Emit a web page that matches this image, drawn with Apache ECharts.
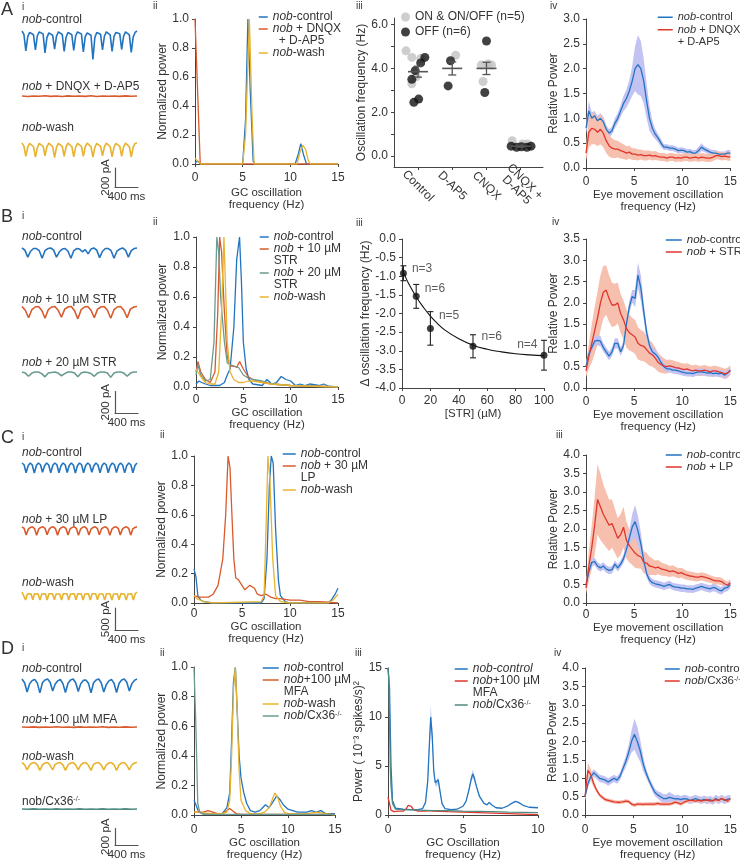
<!DOCTYPE html>
<html><head><meta charset="utf-8">
<script src="https://cdn.jsdelivr.net/npm/echarts@6/dist/echarts.min.js"></script>
<style>html,body{margin:0;padding:0;background:#fff}#c{width:740px;height:862px}</style>
</head><body><div id="c"></div>
<script>
// ================= DATA =================
// --- column i: current traces (pA), evenly sampled over 2000 ms ---
const traceA_control = [0,-35,-210,-60,-15, -5,-40,-200,-50,-10, 0,-30,-230,-70,-20, -5,-45,-190,-55,-10, 0,-35,-215,-65,-15, -5,-40,-205,-50,-10, 0,-30,-220,-60,-20, -5,-45,-300,-70,-15, 0,-35,-200,-55,-10, -5,-40,-215,-60,-15, 0,-30,-195,-55,-10, -5,-40,-225,-65,-15, 0];
const traceA_drug = [0,-5,0,-3,2,-4,0,-6,1,-3,0,-4,2,-5,0,-3,0,-4,1,-2,0];
const traceA_wash = [-10,-45,-150,-55,-15, -8,-50,-160,-60,-15, -10,-45,-145,-50,-12, -8,-50,-165,-55,-15, -10,-45,-150,-50,-12, -8,-50,-155,-55,-15, -10,-45,-150,-50,-12, -8,-50,-160,-60,-15, -10,-45,-145,-50,-12, -8,-50,-155,-55,-15, -10,-45,-150,-50,-12, -8,-50,-160,-55,-15, -10];
const traceB_control = [0,-20,-85,-30,-5, -5,-25,-95,-25,-5, 0,-20,-85,-35,-10, -5,-30,-95,-25,-5, -10,-35,-15,-55,-10, 0,-20,-90,-30,-5, -5,-25,-95,-30,-10, 0,-20,-85,-25,-5, 0];
const traceB_str10 = [5,-30,-100,-25,0, 5,-30,-105,-25,0, 5,-30,-95,-20,0, 5,-35,-110,-25,0, 5,-30,-100,-20,0, 5,-30,-105,-25,0, 5,-30,-100,-20,0, 5];
const traceB_str20 = [0,-10,-40,-10,0, 0,-15,-45,-10,-5, 0,-10,-35,-15,0, 0,-10,-45,-10,0, -5,-15,-40,-10,0, 0,-10,-50,-10,0, 0,-10,-40,-10,0, 0];
const traceC_control = [0,-40,-220,-60, 0,-45,-230,-55, 0,-40,-210,-60, 0,-45,-225,-50, 0,-40,-220,-60, 0,-40,-215,-55, 0,-45,-230,-60, 0,-40,-220,-55, 0,-40,-210,-60, 0,-45,-225,-55, 0,-40,-220,-60, 0,-40,-215,-55, 0,-45,-225,-60, 0,-40,-220,-55, 0];
const traceC_lp = [5,-30,-180,-50,-10, 5,-35,-190,-45,-10, 5,-30,-175,-50,-5, 5,-35,-185,-50,-10, 5,-30,-180,-45,-10, 5,-30,-190,-50,-5, 5,-35,-180,-50,-10, 5,-30,-175,-45,-10, 5,-35,-185,-50,-5, 5,-30,-180,-50,-10, 5,-30,-185,-45,-10, 5];
const traceC_wash = [0,-40,-180,-45, 0,-40,-175,-40, 0,-45,-185,-45, 0,-40,-180,-40, 0,-40,-175,-45, 0,-45,-185,-40, 0,-40,-180,-45, 0,-40,-175,-40, 0,-45,-185,-45, 0,-40,-180,-40, 0,-40,-175,-45, 0,-45,-185,-40, 0,-40,-180,-45, 0,-40,-175,-40, 0,-45,-185,-45, 0,-40,-180,-40, 0];
const traceD_control = [0,-40,-140,-50,-15, -5,-45,-150,-40,-10, 0,-35,-130,-55,-20, -5,-50,-145,-45,-10, 0,-40,-135,-50,-15, -10,-45,-150,-40,-10, 0,-40,-140,-60,-20, -5,-45,-145,-45,-10, 0,-35,-130,-50,-15, 0];
const traceD_mfa = [0,-3,1,-4,0,-2,2,-3,0,-4,1,-2,0,-3,2,-4,0,-2,1,-3,0];
const traceD_wash = [5,-20,-75,-20,0, 5,-20,-80,-20,0, 5,-25,-75,-15,0, 5,-20,-80,-20,0, 5,-20,-75,-20,0, 5,-25,-80,-15,0, 5,-20,-75,-20,0, 5,-20,-80,-20,0, 5,-25,-75,-20,0, 5];
const traceD_cx36 = [0,-2,1,-3,0,-2,1,-2,0,-3,1,-2,0,-2,1,-3,0,-2,1,-2,0];
const scaleBarMs = [400, 400, 400, 400];
const scaleBarPA = [200, 200, 500, 200];

// --- A ii: normalized power spectra [Hz, power] ---
const aiiControl = [[0,0.01],[0.3,0.02],[0.6,0],[5,0],[5.3,0.3],[5.55,1.0],[5.8,0.5],[6.1,0.02],[6.3,0],[10.5,0],[10.8,0.06],[11.1,0.14],[11.4,0.06],[11.7,0],[15,0]];
const aiiDnqx = [[0,1.0],[0.55,0],[15,0]];
const aiiWash = [[0,0.04],[0.3,0.02],[0.6,0],[5,0],[5.3,0.2],[5.7,1.0],[6.0,0.3],[6.2,0],[10.7,0],[11,0.08],[11.3,0.13],[11.6,0.1],[11.9,0.02],[12.1,0],[15,0]];
// --- A iii: oscillation frequency per condition ---
const aiiiCategories = ['Control','D-AP5','CNQX','CNQX +\nD-AP5'];
const aiiiOnX = [0.65,0.82,1.08,0.95,0.82, 2.1, 2.85,3.05,3.15,2.9, 3.75,4.05,4.2];
const aiiiOnY = [4.8,4.5,4.45,3.62,3.3, 4.6, 4.15,4.2,4.15,3.4, 0.7,0.55,0.55];
const aiiiOffX = [1.2,1.08,0.92,0.82,1.02,0.88, 1.95,1.88, 3.0,2.95, 3.72,3.88,4.02,4.18,4.3];
const aiiiOffY = [4.5,4.25,3.9,3.5,2.6,2.45, 4.35,3.2, 5.25,2.9, 0.45,0.4,0.42,0.4,0.45];
const aiiiMean = [3.85, 4.0, 4.0, 0.45];
const aiiiSem = [0.25, 0.3, 0.28, 0.05];
// --- eye movement relative power (shared frequency grid, Hz) ---
const eyeFreq = [0,0.3,0.6,0.9,1.2,1.5,1.8,2.1,2.4,2.7,3,3.3,3.6,3.9,4.2,4.5,4.8,5.1,5.4,5.7,6,6.3,6.6,6.9,7.2,7.5,7.8,8.1,8.4,8.7,9,9.3,9.6,9.9,10.2,10.5,10.8,11.1,11.4,11.7,12,12.3,12.6,12.9,13.2,13.5,13.8,14.1,14.4,14.7,15];
const aivCtrlMean = [0.8,1.15,1.0,1.05,0.95,1.0,0.93,0.78,0.7,0.75, 0.9,1.0,1.15,1.3,1.4,1.55,1.75,2.0,2.08,2.0, 1.75,1.35,1.0,0.8,0.68,0.6,0.5,0.42,0.42,0.4, 0.4,0.38,0.35,0.36,0.35,0.32,0.33,0.3,0.3,0.35, 0.42,0.38,0.35,0.32,0.3,0.3,0.28,0.28,0.28,0.3, 0.3];
const aivCtrlErr = [0.1,0.2,0.12,0.1,0.1,0.1,0.1,0.08,0.08,0.08, 0.1,0.1,0.12,0.15,0.18,0.22,0.3,0.45,0.6,0.55, 0.45,0.35,0.25,0.15,0.1,0.08,0.08,0.06,0.06,0.06, 0.06,0.06,0.06,0.06,0.06,0.06,0.06,0.06,0.06,0.08, 0.08,0.06,0.06,0.06,0.06,0.06,0.05,0.05,0.05,0.06, 0.06];
const aivDrugMean = [0.3,0.72,0.8,0.78,0.72,0.78,0.7,0.55,0.45,0.4, 0.38,0.38,0.35,0.33,0.3,0.32,0.28,0.28,0.26,0.27, 0.25,0.25,0.26,0.24,0.25,0.23,0.22,0.22,0.2,0.22, 0.22,0.2,0.21,0.2,0.22,0.22,0.2,0.21,0.22,0.2, 0.22,0.21,0.2,0.2,0.22,0.25,0.25,0.23,0.24,0.23, 0.22];
const aivDrugErr = [0.15,0.3,0.32,0.3,0.28,0.3,0.28,0.25,0.22,0.2, 0.18,0.17,0.16,0.15,0.14,0.13,0.12,0.12,0.11,0.1, 0.1,0.1,0.09,0.09,0.09,0.08,0.08,0.08,0.08,0.08, 0.08,0.08,0.08,0.08,0.08,0.08,0.08,0.08,0.08,0.08, 0.08,0.08,0.08,0.08,0.08,0.08,0.08,0.08,0.08,0.08, 0.08];
// --- B ii ---
const biiControl = [[0,0.02],[0.3,0.04],[0.6,0.03],[1,0.02],[1.5,0.01],[2,0.01],[2.5,0.01],[3,0.03],[3.3,0.08],[3.6,0.12],[4,0.4],[4.3,0.85],[4.6,1.0],[4.8,0.7],[5.0,0.3],[5.3,0.12],[5.6,0.05],[6,0.02],[7,0.01],[7.5,0.05],[8,0.02],[8.5,0.03],[9,0.07],[9.5,0.05],[10,0.04],[10.5,0.01],[11,0.02],[11.5,0.01],[12,0.02],[13,0.01],[13.5,0.02],[14,0.005],[15,0]];
const biiStr10 = [[0,0.1],[0.2,0.17],[0.5,0.1],[1,0.05],[1.5,0.03],[2,0.1],[2.3,0.5],[2.5,1.0],[2.7,0.9],[3,0.5],[3.3,0.2],[3.6,0.14],[4,0.14],[4.3,0.13],[4.6,0.17],[5,0.12],[5.5,0.07],[6,0.05],[7,0.03],[8,0.02],[10,0.01],[15,0]];
const biiStr20 = [[0,0.08],[0.2,0.15],[0.5,0.08],[1,0.04],[1.5,0.05],[1.9,0.3],[2.2,1.0],[2.4,0.9],[2.6,0.6],[3,0.3],[3.3,0.16],[3.6,0.15],[4,0.14],[4.5,0.13],[5,0.08],[5.5,0.06],[6,0.05],[7,0.04],[8,0.02],[10,0.01],[15,0]];
const biiWash = [[0,0.12],[0.2,0.13],[0.5,0.07],[1,0.03],[1.5,0.02],[2,0.02],[2.4,0.1],[2.7,0.5],[2.95,1.0],[3.1,0.7],[3.3,0.3],[3.6,0.1],[4,0.05],[4.5,0.03],[5,0.03],[5.5,0.04],[6,0.04],[7,0.03],[8,0.02],[10,0.01],[15,0]];
// --- B iii: strychnine dose response ---
const biiiConc = [1, 10, 20, 50, 100];
const biiiDelta = [-0.92, -1.54, -2.4, -2.88, -3.12];
const biiiErr = [0.2, 0.32, 0.45, 0.31, 0.4];
const biiiN = ['n=3','n=6','n=5','n=6','n=4'];
const biiiFitX = [0,2,5,10,15,20,25,30,40,50,60,70,80,90,100];
const biiiFitY = [-0.78,-0.98,-1.22,-1.55,-1.83,-2.07,-2.27,-2.44,-2.68,-2.85,-2.96,-3.03,-3.08,-3.11,-3.13];
// --- B iv ---
const bivCtrlMean = [0.5,0.8,0.95,1.1,1.12,1.1,0.95,0.85,0.75,0.85, 1.05,1.05,0.85,1.0,1.5,1.9,2.15,2.1,2.65,2.35, 1.8,1.3,1.0,0.85,0.8,0.72,0.6,0.5,0.45,0.45, 0.42,0.42,0.4,0.38,0.36,0.35,0.35,0.34,0.36,0.38, 0.38,0.37,0.35,0.36,0.34,0.35,0.33,0.35,0.3,0.35, 0.4];
const bivCtrlErr = [0.1,0.1,0.1,0.1,0.12,0.12,0.1,0.1,0.1,0.1, 0.12,0.12,0.1,0.1,0.12,0.15,0.15,0.2,0.3,0.3, 0.2,0.15,0.12,0.1,0.1,0.08,0.08,0.08,0.08,0.08, 0.08,0.08,0.08,0.08,0.08,0.08,0.08,0.08,0.08,0.08, 0.08,0.08,0.08,0.08,0.08,0.08,0.08,0.08,0.08,0.08, 0.08];
const bivStrMean = [0.4,0.75,1.05,1.35,1.65,2.0,2.25,2.3,2.1,1.95, 1.95,2.0,1.75,1.6,1.4,1.3,1.25,1.2,1.05,1.0, 0.98,0.9,0.82,0.78,0.7,0.6,0.55,0.52,0.5,0.52, 0.5,0.48,0.47,0.45,0.43,0.45,0.42,0.4,0.42,0.4, 0.4,0.42,0.4,0.38,0.4,0.4,0.38,0.36,0.33,0.35, 0.42];
const bivStrErr = [0.15,0.3,0.45,0.55,0.62,0.65,0.62,0.58,0.55,0.52, 0.5,0.48,0.46,0.45,0.45,0.42,0.4,0.4,0.38,0.36, 0.35,0.32,0.3,0.28,0.25,0.22,0.2,0.18,0.16,0.15, 0.15,0.15,0.14,0.14,0.14,0.13,0.13,0.13,0.13,0.12, 0.12,0.12,0.12,0.12,0.12,0.12,0.12,0.12,0.12,0.12, 0.12];
// --- C ii ---
const ciiControl = [[0,0.23],[0.2,0.18],[0.4,0.05],[0.7,0.02],[1,0.01],[2,0],[7,0],[7.3,0.03],[7.6,0.3],[7.85,0.8],[8.05,1.0],[8.25,0.95],[8.5,0.5],[8.8,0.15],[9.0,0.05],[9.5,0.01],[10,0],[14,0],[14.3,0.02],[14.7,0.06],[15,0.1]];
const ciiLp = [[0,0.05],[0.5,0.04],[1,0.04],[1.5,0.04],[2,0.06],[2.5,0.12],[3,0.3],[3.3,0.6],[3.55,1.0],[3.75,0.92],[3.95,0.6],[4.15,0.3],[4.35,0.17],[4.6,0.16],[5,0.12],[5.3,0.09],[5.5,0.08],[5.8,0.12],[6,0.13],[6.3,0.1],[6.6,0.06],[7,0.05],[7.5,0.06],[8,0.04],[8.5,0.03],[9,0.03],[10,0.02],[11,0.02],[12,0.01],[13,0.01],[14,0.005],[15,0]];
const ciiWash = [[0,0.05],[0.3,0.03],[1,0.01],[2,0],[7,0.01],[7.3,0.05],[7.5,0.5],[7.7,1.0],[7.9,0.85],[8.2,0.3],[8.5,0.05],[9,0.01],[10,0],[14,0],[14.5,0.02],[15,0.06]];
// --- C iii ---
const ciiiCtrlMean = [0.5,0.85,1.1,1.12,1.0,0.95,1.0,0.92,0.88,0.9, 1.05,0.95,1.05,1.2,1.45,1.75,2.05,2.2,1.95,1.6, 1.15,0.8,0.62,0.55,0.52,0.5,0.48,0.45,0.48,0.5, 0.45,0.43,0.42,0.4,0.4,0.38,0.38,0.37,0.4,0.42, 0.45,0.42,0.4,0.38,0.42,0.4,0.35,0.33,0.4,0.42, 0.5];
const ciiiCtrlErr = [0.1,0.1,0.1,0.1,0.1,0.1,0.1,0.1,0.1,0.1, 0.1,0.1,0.1,0.12,0.15,0.2,0.35,0.45,0.4,0.3, 0.2,0.12,0.1,0.1,0.1,0.1,0.1,0.1,0.1,0.1, 0.1,0.1,0.1,0.1,0.1,0.1,0.1,0.1,0.1,0.1, 0.1,0.1,0.1,0.1,0.1,0.1,0.1,0.1,0.1,0.1, 0.1];
const ciiiLpMean = [0.4,1.0,1.5,2.1,2.8,2.6,2.4,2.25,2.1,2.15, 1.95,1.75,1.85,2.05,1.7,1.55,1.45,1.35,1.28,1.25, 1.1,1.08,1.0,0.98,0.95,0.97,0.92,0.9,0.88,0.85, 0.87,0.84,0.8,0.82,0.78,0.75,0.73,0.72,0.7,0.7, 0.72,0.7,0.68,0.65,0.62,0.6,0.6,0.58,0.52,0.48, 0.55];
const ciiiLpErr = [0.15,0.4,0.6,0.8,0.95,0.9,0.8,0.75,0.7,0.65, 0.6,0.55,0.55,0.55,0.5,0.45,0.42,0.4,0.35,0.32, 0.3,0.28,0.25,0.22,0.2,0.19,0.18,0.17,0.16,0.15, 0.15,0.14,0.14,0.13,0.13,0.12,0.12,0.12,0.12,0.11, 0.11,0.11,0.11,0.1,0.1,0.1,0.1,0.1,0.1,0.1, 0.1];
// --- D ii ---
const diiControl = [[0,0.1],[0.2,0.07],[0.5,0.02],[1,0.01],[2,0.005],[3,0.01],[3.5,0.05],[3.8,0.15],[4.0,0.5],[4.2,0.9],[4.4,1.0],[4.6,0.7],[4.8,0.4],[5.0,0.25],[5.3,0.15],[5.6,0.08],[6,0.03],[6.5,0.02],[7,0.03],[7.3,0.05],[7.6,0.07],[8,0.05],[8.5,0.1],[8.8,0.13],[9.2,0.1],[9.5,0.07],[10,0.04],[11,0.02],[12,0.02],[12.5,0.03],[13,0.02],[13.5,0.03],[14,0.01],[15,0.01]];
const diiMfa = [[0,0.02],[1,0.02],[1.5,0.03],[2,0.02],[2.5,0.01],[3,0.01],[3.5,0.03],[3.8,0.045],[4.1,0.03],[4.5,0.01],[5,0.005],[15,0.005]];
const diiWash = [[0,0.02],[0.5,0.02],[1,0.015],[2,0.01],[3,0.01],[3.5,0.02],[3.8,0.1],[4.0,0.4],[4.2,0.85],[4.4,1.0],[4.6,0.7],[4.8,0.3],[5.0,0.1],[5.5,0.03],[6,0.01],[7,0.01],[7.5,0.02],[8,0.05],[8.3,0.1],[8.6,0.15],[8.9,0.12],[9.2,0.06],[9.6,0.02],[10,0.01],[12,0.01],[13,0.02],[14,0.01],[15,0]];
const diiCx36 = [[0,1.0],[0.2,0.6],[0.4,0.08],[0.6,0.02],[1,0.005],[15,0.005]];
// --- D iii: spike power spectra ---
const diiiCtrlX = [0,0.1,0.2,0.3,0.5,1,1.5,2,2.3,2.5,2.65,2.75,2.85,2.95,3.05,3.15,3.25,3.35,3.45,3.6,3.8,4.2,4.6,5,5.2,5.4,5.55,5.65,5.75,5.9,6.1,6.4,6.6,6.75,6.9,7.2,7.6,8,8.3,8.5,8.7,9,9.4,10];
const diiiCtrlY = [15,13,5,1.5,0.7,0.6,0.55,0.55,0.65,1.3,3.5,7,10,8,4.5,3.3,3.2,3.6,2.6,1.2,0.65,0.55,0.6,0.9,1.4,2.6,3.7,4.2,3.8,2.9,1.9,1.2,1.05,1.3,1.05,0.75,0.7,0.95,1.25,1.4,1.3,1.0,0.8,0.75];
const diiiCtrlErr = [0,0,0,0,0,0,0,0,0,0.1,0.3,0.6,1.2,0.8,0.4,0.3,0.3,0.3,0.2,0.1,0,0,0,0.05,0.1,0.2,0.3,0.45,0.3,0.2,0.1,0.05,0,0.05,0,0,0,0,0,0.05,0.05,0,0,0];
const diiiMfa = [[0,1.8],[0.1,1.2],[0.2,0.5],[0.4,0.35],[0.7,0.4],[1.0,0.4],[1.2,0.6],[1.35,1.0],[1.45,1.2],[1.55,0.9],[1.7,0.55],[2.0,0.4],[2.5,0.4],[2.8,0.45],[3.0,0.4],[3.5,0.38],[4,0.35],[5,0.3],[6,0.25],[7,0.2],[8,0.15],[9,0.1],[10,0.05]];
const diiiCx36 = [[0,15],[0.05,14],[0.1,10],[0.15,5],[0.2,3],[0.3,1.2],[0.5,0.6],[1,0.55],[2,0.5],[3,0.45],[4,0.45],[5,0.4],[6,0.38],[7,0.35],[8,0.3],[9,0.28],[10,0.25]];
// --- D iv ---
const divCtrlMean = [0.5,0.85,1.05,1.15,1.08,1.0,0.98,0.95,0.9,0.95, 1.0,0.95,1.05,1.25,1.45,1.7,2.0,2.2,2.0,1.75, 1.4,1.15,0.95,0.78,0.62,0.55,0.5,0.45,0.45,0.48, 0.46,0.44,0.45,0.42,0.45,0.44,0.4,0.42,0.45,0.42, 0.4,0.43,0.4,0.42,0.38,0.45,0.4,0.45,0.4,0.43, 0.45];
const divCtrlErr = [0.1,0.1,0.1,0.1,0.1,0.1,0.1,0.1,0.1,0.1, 0.1,0.1,0.1,0.12,0.15,0.2,0.3,0.42,0.4,0.3, 0.2,0.12,0.1,0.1,0.1,0.1,0.12,0.12,0.12,0.15, 0.12,0.1,0.1,0.1,0.1,0.1,0.1,0.1,0.1,0.1, 0.1,0.1,0.1,0.1,0.1,0.1,0.1,0.1,0.1,0.1, 0.1];
const divCx36Mean = [0.5,1.22,1.1,0.85,0.68,0.55,0.48,0.42,0.4,0.38, 0.36,0.35,0.35,0.36,0.38,0.37,0.3,0.27,0.3,0.3, 0.29,0.3,0.3,0.3,0.3,0.32,0.3,0.3,0.3,0.3, 0.32,0.35,0.33,0.3,0.35,0.38,0.4,0.4,0.38,0.4, 0.38,0.4,0.42,0.38,0.4,0.42,0.4,0.45,0.42,0.38, 0.45];
const divCx36Err = [0.1,0.2,0.15,0.1,0.06,0.05,0.05,0.05,0.05,0.05, 0.05,0.05,0.05,0.05,0.05,0.05,0.05,0.05,0.05,0.05, 0.05,0.05,0.05,0.05,0.05,0.05,0.05,0.05,0.05,0.05, 0.05,0.05,0.05,0.05,0.05,0.05,0.05,0.05,0.05,0.05, 0.05,0.05,0.05,0.05,0.05,0.05,0.05,0.05,0.05,0.05, 0.05];

// ================= STYLE / LAYOUT =================
const FONT = "'Liberation Sans', Arial, Helvetica, sans-serif";
const TXT = '#333', AX = '#444';
const BLUE='#2274c0', ORANGE='#d95a2c', YELLOW='#e8b32e', TEAL='#6b9a91', RED='#e0362c', DTEAL='#4f8a80';
const BAND_B='#c2c2f3', BAND_R='#f7bfae', BAND_LB='#b9cff0';
const RICH = {
  i:{fontStyle:'italic', fontFamily:FONT},
  sup:{fontSize:7, verticalAlign:'top', fontFamily:FONT}
};
const LBL = {
  aii_c:'{i|nob}-control', aii_d:'{i|nob} + DNQX', aii_d2:'\u2002+ D-AP5', aii_w:'{i|nob}-wash',
  aiii_on:'ON & ON/OFF (n=5)', aiii_off:'OFF (n=6)',
  aiv_c:'{i|nob}-control', aiv_d:'{i|nob} + DNQX', aiv_d2:'+ D-AP5',
  bii_c:'{i|nob}-control', bii_10:'{i|nob} + 10 µM', bii_10b:'STR', bii_20:'{i|nob} + 20 µM', bii_20b:'STR', bii_w:'{i|nob}-wash',
  biv_c:'{i|nob}-control', biv_s:'{i|nob} + STR',
  cii_c:'{i|nob}-control', cii_l:'{i|nob} + 30 µM', cii_l2:'LP', cii_w:'{i|nob}-wash',
  ciii_c:'{i|nob}-control', ciii_l:'{i|nob} + LP',
  dii_c:'{i|nob}-control', dii_m:'{i|nob}+100 µM', dii_m2:'MFA', dii_w:'{i|nob}-wash', dii_k:'{i|nob}/Cx36{sup|-/-}',
  diii_c:'{i|nob-control}', diii_m:'{i|nob}+100 µM', diii_m2:'MFA', diii_k:'{i|nob}/Cx36{sup|-/-}',
  div_c:'{i|nob}-control', div_k:'{i|nob}/Cx36{sup|-/-}'
};

const grids=[], xAxes=[], yAxes=[], series=[], legends=[], graphics=[];
function merge(t, s){ for (const k in s){ const v=s[k]; if (v && typeof v==='object' && !Array.isArray(v) && t[k] && typeof t[k]==='object' && !Array.isArray(t[k])) merge(t[k], v); else t[k]=v; } return t; }
function baseAxis(){ return {type:'value', axisLine:{show:true,onZero:false,lineStyle:{color:AX,width:1}}, axisTick:{show:true,length:3,lineStyle:{color:AX}}, splitLine:{show:false}, axisLabel:{color:TXT,fontSize:12,fontFamily:FONT,margin:6}, nameTextStyle:{color:TXT,fontFamily:FONT,fontSize:12,lineHeight:12}}; }
function addPanel(rect, xo, yo){
  const gi = grids.length;
  grids.push(rect);
  xAxes.push(merge(merge(baseAxis(), {gridIndex:gi, position:'bottom', nameLocation:'middle'}), xo));
  yAxes.push(merge(merge(baseAxis(), {gridIndex:gi, position:'left', nameLocation:'middle'}), yo));
  return gi;
}
function line(gi, name, data, color, w, extra){ series.push(merge({type:'line', name, xAxisIndex:gi, yAxisIndex:gi, data, symbol:'none', smooth:false, lineStyle:{color, width:w||1.3}, itemStyle:{color}, z:3}, extra||{})); }
function dummy(gi, name){ series.push({type:'line', name, xAxisIndex:gi, yAxisIndex:gi, data:[], symbol:'none'}); }
function band(gi, x, mean, err, color){
  series.push({type:'custom', xAxisIndex:gi, yAxisIndex:gi, data:[[x[0], mean[0]]], silent:true, z:1, clip:true,
    renderItem:(p, api)=>{
      const up=[], lo=[];
      for (let i=0;i<x.length;i++){ up.push(api.coord([x[i], mean[i]+err[i]])); lo.push(api.coord([x[i], mean[i]-err[i]])); }
      return {type:'polygon', shape:{points: up.concat(lo.reverse())}, style:{fill:color}};
    }});
}
function legend(names, left, top, itemWidth, rowH, contNames, fs){
  fs = fs || 12;
  legends.push({show:true, orient:'vertical', left, top, padding:0, itemGap:0, itemWidth, itemHeight:rowH, selectedMode:false,
    data: names.map(n => (contNames||[]).indexOf(n)>=0 ? {name:n, icon:'none'} : {name:n}),
    formatter: n => LBL[n],
    itemStyle:{opacity:0, borderWidth:0}, lineStyle:{width:1.5},
    textStyle:{color:TXT, fontFamily:FONT, fontSize:fs, lineHeight:rowH, rich:{i:{fontStyle:'italic',fontFamily:FONT,fontSize:fs,lineHeight:rowH}, sup:{fontSize:7,verticalAlign:'top',fontFamily:FONT,lineHeight:rowH}}}});
}
function gtext(x, y, text, size, extra){ graphics.push(merge({type:'text', x, y, silent:true, style:{text, fontFamily:FONT, fontSize:size, fill:TXT, verticalAlign:'middle', align:'left', rich:RICH}}, extra||{})); }
const f1 = v => v.toFixed(1);

// ---------- column i traces ----------
const TRACE_MS = 2000, MS_PER_PX = 400/23, TRACE_LEFT = 22;
function trace(arr, baseY, pAperPx, color){
  const yMax = 40, yMin = -360;
  const gi = grids.length;
  grids.push({left:TRACE_LEFT, top: baseY - yMax/pAperPx, width: TRACE_MS/MS_PER_PX, height:(yMax-yMin)/pAperPx});
  xAxes.push({type:'value', gridIndex:gi, min:0, max:TRACE_MS, show:false});
  yAxes.push({type:'value', gridIndex:gi, min:yMin, max:yMax, show:false});
  line(gi, undefined, arr.map((v,i)=>[i*TRACE_MS/(arr.length-1), v]), color, 1.6);
}
function scaleBar(k, bottomY, pAperPx){
  const gi = grids.length;
  const w = scaleBarMs[k]/MS_PER_PX, h = scaleBarPA[k]/pAperPx;
  grids.push({left:115, top:bottomY-h, width:w, height:h});
  const ax = {axisLine:{show:true,lineStyle:{color:'#555',width:1.2}}, axisTick:{show:false}, axisLabel:{show:false}, splitLine:{show:false}, nameLocation:'middle', nameTextStyle:{color:TXT,fontFamily:FONT,fontSize:11.5}};
  xAxes.push(merge({type:'value', gridIndex:gi, min:0, max:scaleBarMs[k], name:scaleBarMs[k]+' ms', nameGap:4}, JSON.parse(JSON.stringify(ax))));
  yAxes.push(merge({type:'value', gridIndex:gi, min:0, max:scaleBarPA[k], name:scaleBarPA[k]+' pA', nameGap:3}, JSON.parse(JSON.stringify(ax))));
}
const pxA = 200/19, pxB = 200/21.5, pxC = 500/22, pxD = 200/18.5;
trace(traceA_control, 31, pxA, BLUE); trace(traceA_drug, 96, pxA, ORANGE); trace(traceA_wash, 142, pxA, YELLOW); scaleBar(0, 187, pxA);
trace(traceB_control, 248, pxB, BLUE); trace(traceB_str10, 307, pxB, ORANGE); trace(traceB_str20, 372, pxB, TEAL); scaleBar(1, 413, pxB);
trace(traceC_control, 463, pxC, BLUE); trace(traceC_lp, 527, pxC, ORANGE); trace(traceC_wash, 592, pxC, YELLOW); scaleBar(2, 630, pxC);
trace(traceD_control, 679, pxD, BLUE); trace(traceD_mfa, 727, pxD, ORANGE); trace(traceD_wash, 763, pxD, YELLOW); trace(traceD_cx36, 809, pxD, DTEAL); scaleBar(3, 847, pxD);

gtext(22,20,'{i|nob}-control',12); gtext(22,87,'{i|nob} + DNQX + D-AP5',12); gtext(22,128,'{i|nob}-wash',12);
gtext(22,237,'{i|nob}-control',12); gtext(22,300,'{i|nob} + 10 µM STR',12); gtext(22,363,'{i|nob} + 20 µM STR',12);
gtext(22,453,'{i|nob}-control',12); gtext(22,520,'{i|nob} + 30 µM LP',12); gtext(22,583,'{i|nob}-wash',12);
gtext(22,669,'{i|nob}-control',12); gtext(22,720,'{i|nob}+100 µM MFA',12); gtext(22,757,'{i|nob}-wash',12); gtext(22,802,'nob/Cx36{sup|-/-}',12);

// panel letters and roman numerals
gtext(1,10,'A',18); gtext(1,217,'B',18); gtext(1,438,'C',18); gtext(1,649,'D',18);
[[22,7,'i'],[153,6,'ii'],[356,6,'iii'],[550,6,'iv'],
 [22,216,'i'],[153,222,'ii'],[356,223,'iii'],[552,222,'iv'],
 [22,437,'i'],[160,435,'ii'],[556,435,'iii'],
 [22,648,'i'],[160,653,'ii'],[355,653,'iii'],[554,653,'iv']].forEach(r=>gtext(r[0],r[1],r[2],10));

// ---------- spectra panels ----------
function spectrum(rect, nameGapX, marginX, nameGapY){
  return addPanel(rect,
    {min:0,max:15,interval:5,name:'GC oscillation\nfrequency (Hz)',nameGap:nameGapX,axisLabel:{margin:marginX},nameTextStyle:{fontSize:11.5}},
    {min:0,max:1,interval:0.2,name:'Normalized power',nameGap:nameGapY,axisLabel:{formatter:f1}});
}
function eyePanel(rect, ymax, nameGapX, marginX, nameGapY){
  return addPanel(rect,
    {min:0,max:15,interval:5,name:'Eye movement oscillation\nfrequency (Hz)',nameGap:nameGapX,axisLabel:{margin:marginX},nameTextStyle:{fontSize:11.5}},
    {min:0,max:ymax,interval:0.5,name:'Relative Power',nameGap:nameGapY,axisLabel:{formatter:f1}});
}

// A ii
let g = spectrum({left:195, top:19, width:143, height:145}, 23, 8, 24);
line(g,'aii_c',aiiControl,BLUE); line(g,'aii_d',aiiDnqx,ORANGE); dummy(g,'aii_d2'); line(g,'aii_w',aiiWash,YELLOW);
legend(['aii_c','aii_d','aii_d2','aii_w'], 258, 11, 9, 11.7, ['aii_d2']);

// A iii
g = addPanel({left:394, top:18, width:149, height:149},
  {min:0.3,max:4.65,axisLabel:{customValues:[1,2,3,4],formatter:v=>aiiiCategories[Math.round(v)-1],rotate:-45,align:'center',verticalAlign:'middle',margin:19,lineHeight:12},axisTick:{customValues:[1,2,3,4]}},
  {min:-0.5,max:6.3,axisLabel:{customValues:[0,2,4,6],formatter:f1},axisTick:{customValues:[0,1,2,3,4,5,6]},name:'Oscillation frequency (Hz)',nameGap:21});
series.push({type:'scatter', name:'aiii_on', xAxisIndex:g, yAxisIndex:g, data:aiiiOnX.map((x,i)=>[x,aiiiOnY[i]]), symbolSize:9, itemStyle:{color:'#c2c2c2'}, z:3});
series.push({type:'scatter', name:'aiii_off', xAxisIndex:g, yAxisIndex:g, data:aiiiOffX.map((x,i)=>[x,aiiiOffY[i]]), symbolSize:9, itemStyle:{color:'#111'}, z:4});
series.push({type:'custom', xAxisIndex:g, yAxisIndex:g, z:5, silent:true, data:aiiiMean.map((m,i)=>[i+1,m,aiiiSem[i]]),
  renderItem:(p, api)=>{
    const x=api.value(0), m=api.value(1), s=api.value(2);
    const c=api.coord([x,m]), hi=api.coord([x,m+s]), lo=api.coord([x,m-s]);
    const st={stroke:'#555', lineWidth:1.3};
    return {type:'group', children:[
      {type:'line', shape:{x1:c[0]-10,y1:c[1],x2:c[0]+10,y2:c[1]}, style:{stroke:'#555',lineWidth:1.6}},
      {type:'line', shape:{x1:c[0],y1:hi[1],x2:c[0],y2:lo[1]}, style:st},
      {type:'line', shape:{x1:c[0]-4,y1:hi[1],x2:c[0]+4,y2:hi[1]}, style:st},
      {type:'line', shape:{x1:c[0]-4,y1:lo[1],x2:c[0]+4,y2:lo[1]}, style:st}]};
  }});
legends.push({show:true, orient:'vertical', left:401, top:11, padding:0, itemGap:3, itemWidth:9, itemHeight:10, selectedMode:false,
  data:[{name:'aiii_on',icon:'circle'},{name:'aiii_off',icon:'circle'}], formatter:n=>LBL[n],
  textStyle:{color:TXT,fontFamily:FONT,fontSize:12}});

// A iv
g = eyePanel({left:586, top:19, width:147, height:149}, 3.0, 18, 8, 20);
band(g, eyeFreq, aivCtrlMean, aivCtrlErr, BAND_B); band(g, eyeFreq, aivDrugMean, aivDrugErr, BAND_R);
line(g,'aiv_c',eyeFreq.map((x,i)=>[x,aivCtrlMean[i]]),BLUE); line(g,'aiv_d',eyeFreq.map((x,i)=>[x,aivDrugMean[i]]),RED); dummy(g,'aiv_d2');
legend(['aiv_c','aiv_d','aiv_d2'], 657, 11, 15, 12.5, ['aiv_d2'], 11);

// B ii
g = spectrum({left:196, top:237, width:142, height:150}, 18, 7, 27);
line(g,'bii_c',biiControl,BLUE); line(g,'bii_10',biiStr10,ORANGE); dummy(g,'bii_10b'); line(g,'bii_20',biiStr20,TEAL); dummy(g,'bii_20b'); line(g,'bii_w',biiWash,YELLOW);
legend(['bii_c','bii_10','bii_10b','bii_20','bii_20b','bii_w'], 259, 231, 9, 10.7, ['bii_10b','bii_20b']);

// B iii
g = addPanel({left:402, top:239, width:142, height:149},
  {min:0,max:100,interval:20,name:'[STR] (µM)',nameGap:19,axisLabel:{margin:7},nameTextStyle:{fontSize:11.5}},
  {min:-4,max:0,interval:0.5,axisLabel:{formatter:f1},name:'Δ oscillation frequency (Hz)',nameGap:29});
line(g,undefined,biiiFitX.map((x,i)=>[x,biiiFitY[i]]),'#111',1.1,{smooth:true,z:2});
series.push({type:'custom', xAxisIndex:g, yAxisIndex:g, z:4, silent:true, data:biiiConc.map((c,i)=>[c,biiiDelta[i],biiiErr[i]]),
  renderItem:(p, api)=>{
    const x=api.value(0), m=api.value(1), s=api.value(2);
    const hi=api.coord([x,m+s]), lo=api.coord([x,m-s]);
    const st={stroke:'#222', lineWidth:1.1};
    return {type:'group', children:[
      {type:'line', shape:{x1:hi[0],y1:hi[1],x2:lo[0],y2:lo[1]}, style:st},
      {type:'line', shape:{x1:hi[0]-3,y1:hi[1],x2:hi[0]+3,y2:hi[1]}, style:st},
      {type:'line', shape:{x1:lo[0]-3,y1:lo[1],x2:lo[0]+3,y2:lo[1]}, style:st}]};
  }});
const nLabelPos = [['right',[0,-5]],['right',[0,-8]],['right',[0,-13]],['right',[0,-10]],['left',[2,-11]]];
series.push({type:'scatter', xAxisIndex:g, yAxisIndex:g, z:5, symbolSize:7, itemStyle:{color:'#111'},
  data:biiiConc.map((c,i)=>({value:[c,biiiDelta[i]], label:{show:true, position:nLabelPos[i][0], offset:nLabelPos[i][1], formatter:biiiN[i], color:TXT, fontFamily:FONT, fontSize:12}}))});

// B iv
g = eyePanel({left:586, top:239, width:148, height:149}, 3.5, 17, 8, 22);
band(g, eyeFreq, bivStrMean, bivStrErr, BAND_R); band(g, eyeFreq, bivCtrlMean, bivCtrlErr, BAND_B);
line(g,'biv_c',eyeFreq.map((x,i)=>[x,bivCtrlMean[i]]),BLUE); line(g,'biv_s',eyeFreq.map((x,i)=>[x,bivStrMean[i]]),RED);
legend(['biv_c','biv_s'], 665, 234, 16, 10.5, null, 11.5);

// C ii
g = spectrum({left:194, top:456, width:144, height:147}, 14, 5, 21);
line(g,'cii_c',ciiControl,BLUE); line(g,'cii_l',ciiLp,ORANGE); dummy(g,'cii_l2'); line(g,'cii_w',ciiWash,YELLOW);
legend(['cii_c','cii_l','cii_l2','cii_w'], 282, 448, 13, 10.9, ['cii_l2']);

// C iii
g = eyePanel({left:586, top:455, width:147, height:148}, 4.0, 15, 6, 20);
band(g, eyeFreq, ciiiLpMean, ciiiLpErr, BAND_R); band(g, eyeFreq, ciiiCtrlMean, ciiiCtrlErr, BAND_B);
line(g,'ciii_c',eyeFreq.map((x,i)=>[x,ciiiCtrlMean[i]]),BLUE); line(g,'ciii_l',eyeFreq.map((x,i)=>[x,ciiiLpMean[i]]),RED);
legend(['ciii_c','ciii_l'], 665, 449, 16, 10.7, null, 11.5);

// D ii
g = spectrum({left:194, top:667, width:141, height:150}, 20, 9, 25);
line(g,'dii_c',diiControl,BLUE); line(g,'dii_m',diiMfa,ORANGE); dummy(g,'dii_m2'); line(g,'dii_w',diiWash,YELLOW); line(g,'dii_k',diiCx36,TEAL);
legend(['dii_c','dii_m','dii_m2','dii_w','dii_k'], 262, 662, 16, 10.9, ['dii_m2']);

// D iii
g = addPanel({left:388, top:668, width:150, height:149},
  {min:0,max:10,interval:5,name:'GC Oscillation\nfrequency (Hz)',nameGap:20,axisLabel:{margin:9},nameTextStyle:{fontSize:11.5}},
  {min:0,max:15,interval:5,name:'Power ( 10⁻³ spikes/s)²',nameGap:17});
band(g, diiiCtrlX, diiiCtrlY, diiiCtrlErr, BAND_LB);
line(g,'diii_c',diiiCtrlX.map((x,i)=>[x,diiiCtrlY[i]]),BLUE); line(g,'diii_m',diiiMfa,RED); dummy(g,'diii_m2'); line(g,'diii_k',diiiCx36,DTEAL);
legend(['diii_c','diii_m','diii_m2','diii_k'], 454, 663, 13, 10.9, ['diii_m2']);

// D iv
g = eyePanel({left:585, top:668, width:148, height:151}, 4.0, 18, 9, 21);
band(g, eyeFreq, divCtrlMean, divCtrlErr, BAND_B); band(g, eyeFreq, divCx36Mean, divCx36Err, BAND_R);
line(g,'div_c',eyeFreq.map((x,i)=>[x,divCtrlMean[i]]),BLUE); line(g,'div_k',eyeFreq.map((x,i)=>[x,divCx36Mean[i]]),RED);
legend(['div_c','div_k'], 664, 663, 15, 10.7, null, 11.5);

const chart = echarts.init(document.getElementById('c'), null, {renderer:'canvas'});
chart.setOption({animation:false, backgroundColor:'#fff', grid:grids, xAxis:xAxes, yAxis:yAxes, series, legend:legends, graphic:{elements:graphics}});
</script></body></html>
